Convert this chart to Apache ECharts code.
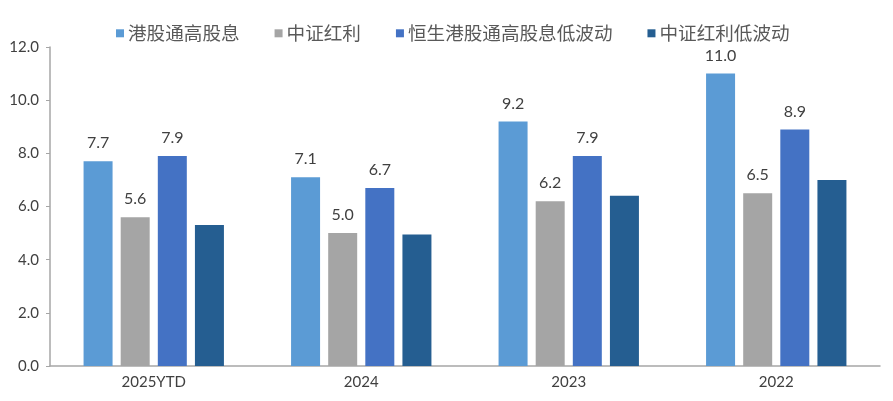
<!DOCTYPE html>
<html><head><meta charset="utf-8">
<script src="https://cdn.jsdelivr.net/npm/echarts@6/dist/echarts.min.js"></script>
<style>html,body{margin:0;padding:0;background:#fff}#c{width:893px;height:401px}</style>
</head><body><div id="c"></div>
<script>
const categories = ['2025YTD', '2024', '2023', '2022'];
const seriesNames = ['港股通高股息', '中证红利', '恒生港股通高股息低波动', '中证红利低波动'];
const hkHighDiv = [7.7, 7.1, 9.2, 11.0];
const csiDiv = [5.6, 5.0, 6.2, 6.5];
const hsHighDivLowVol = [7.9, 6.7, 7.9, 8.9];
const csiDivLowVol = [5.3, 4.95, 6.4, 7.0];
const showLabels = [true, true, true, false];
const colors = ['#5b9bd5', '#a5a5a5', '#4472c4', '#255e91'];
const yTicks = [0, 2, 4, 6, 8, 10, 12];

const allData = [hkHighDiv, csiDiv, hsHighDivLowVol, csiDivLowVol];
const chart = echarts.init(document.getElementById('c'));
const numFont = 'Lato, "DejaVu Sans", sans-serif';
chart.setOption({
  animation: false,
  color: colors,
  legend: {
    top: 19,
    left: 111,
    itemWidth: 8, itemHeight: 8, itemGap: 35,
    icon: 'rect',
    textStyle: {fontFamily: '"Noto Sans CJK SC", sans-serif', fontSize: 18.6, color: '#595959', padding: [0,0,0,-1]},
    data: seriesNames
  },
  grid: {left: 50, right: 13, top: 47, bottom: 35, containLabel: false},
  xAxis: {
    type: 'category', data: categories,
    axisLine: {lineStyle: {color: '#a6a6a6', width: 1.5}},
    axisTick: {show: false},
    axisLabel: {fontFamily: numFont, fontSize: 15, color: '#404040', margin: 9}
  },
  yAxis: {
    type: 'value', min: yTicks[0], max: yTicks[yTicks.length-1], interval: 2,
    axisLine: {show: true, lineStyle: {color: '#a6a6a6', width: 1.5}},
    axisTick: {show: true, length: 4, lineStyle: {color: '#a6a6a6'}},
    splitLine: {show: false},
    axisLabel: {fontFamily: numFont, fontSize: 15, color: '#404040', margin: 11,
      formatter: v => v.toFixed(1)}
  },
  series: allData.map((d, i) => ({
    name: seriesNames[i], type: 'bar', data: d,
    barWidth: 29, barGap: '28%',
    label: {show: showLabels[i], position: 'top', distance: 10,
      fontFamily: numFont, fontSize: 16, color: '#404040',
      formatter: p => p.value.toFixed(1)}
  }))
});
</script></body></html>
